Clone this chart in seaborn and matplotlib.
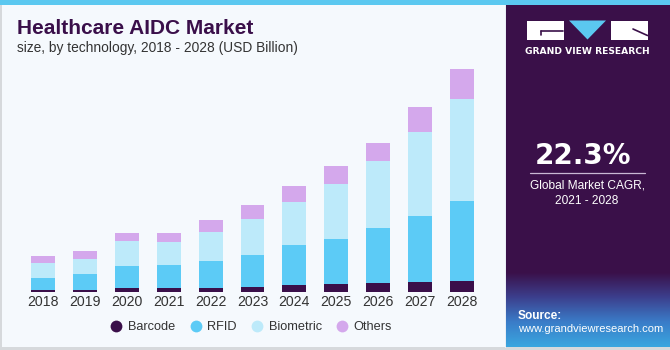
import matplotlib
matplotlib.use("Agg")
import matplotlib.pyplot as plt
import seaborn as sns
import numpy as np
import pandas as pd
from matplotlib.patches import Rectangle, Polygon
from matplotlib.lines import Line2D
from matplotlib.colors import LinearSegmentedColormap

# ---- data (USD Billion) ----
years = ["2018", "2019", "2020", "2021", "2022", "2023", "2024", "2025", "2026", "2027", "2028"]
barcode = [0.23, 0.20, 0.43, 0.46, 0.46, 0.56, 0.70, 0.80, 0.96, 1.06, 1.16]
rfid = [1.23, 1.63, 2.20, 2.27, 2.70, 3.17, 4.03, 4.50, 5.47, 6.60, 7.97]
biometric = [1.44, 1.53, 2.50, 2.33, 2.87, 3.60, 4.27, 5.53, 6.70, 8.37, 10.20]
others = [0.73, 0.77, 0.80, 0.87, 1.20, 1.40, 1.66, 1.77, 1.77, 2.47, 2.97]
series_names = ["Barcode", "RFID", "Biometric", "Others"]
colors = ["#3a0f4a", "#5ccbf6", "#bdeafa", "#d4a8ec"]

df = pd.DataFrame({"year": years, "Barcode": barcode, "RFID": rfid,
                   "Biometric": biometric, "Others": others})

W, H = 670, 350
sns.set_theme(style="white")
plt.rcParams["font.family"] = ["Liberation Sans", "DejaVu Sans"]
fig = plt.figure(figsize=(W / 100, H / 100), dpi=100)
fig.patch.set_facecolor("#f5f9fd")

# ---- background in pixel coords ----
bg = fig.add_axes([0, 0, 1, 1], zorder=0)
bg.set_xlim(0, W)
bg.set_ylim(H, 0)
bg.axis("off")
bg.add_patch(Rectangle((0, 0), 506, 348, facecolor="#f5f9fd", edgecolor="none"))
bg.add_patch(Rectangle((0, 0), 2, 350, facecolor="#d6d9dc", edgecolor="none"))
bg.add_patch(Rectangle((0, 347), W, 3, facecolor="#d6d9dc", edgecolor="none"))
bg.add_patch(Rectangle((505, 0), 1.2, 348, facecolor="#e8eef5", edgecolor="none"))
bg.add_patch(Rectangle((506, 0), W - 506, 347, facecolor="#3a1049", edgecolor="none"))
# gradient for the source box
cmap = LinearSegmentedColormap.from_list("g", ["#3a1049", "#3c3f8d", "#3a7cc8", "#3aa6df"])
grad = np.linspace(0, 1, 100).reshape(-1, 1)
bg.imshow(grad, extent=(506, W, 347, 272), cmap=cmap, aspect="auto", zorder=1)
bg.set_xlim(0, W)
bg.set_ylim(H, 0)
# top stripe
bg.add_patch(Rectangle((0, 0), W, 5, facecolor="#5bc8f0", edgecolor="none", zorder=3))

# logo
bg.add_patch(Rectangle((527, 20.5), 36.5, 19, facecolor="white", edgecolor="none", zorder=3))
bg.plot([541, 563], [31, 31], color="#3a1049", lw=1.2, zorder=4)
bg.plot([541, 541], [31, 35], color="#3a1049", lw=1.2, zorder=4)
bg.add_patch(Polygon([(569, 20.5), (606, 20.5), (587.5, 39.5)], closed=True,
                     facecolor="#5bc8f0", edgecolor="none", zorder=3))
bg.add_patch(Rectangle((611, 20.5), 36.5, 19, facecolor="white", edgecolor="none", zorder=3))
bg.plot([633, 647.5], [29, 35.5], color="#3a1049", lw=1.2, zorder=4)
bg.text(587, 51, "GRAND VIEW RESEARCH", color="white", fontsize=6.6, fontweight="bold",
        ha="center", va="center", zorder=4, family=["DejaVu Sans"])

# CAGR
bg.text(583, 156, "22.3%", color="white", fontsize=20, fontweight="bold",
        ha="center", va="center", zorder=4, family=["DejaVu Sans"])
bg.plot([530, 645], [173.3, 173.3], color="#c9b8d4", lw=0.9, zorder=4)
bg.text(587, 186, "Global Market CAGR,", color="white", fontsize=8.6,
        ha="center", va="center", zorder=4)
bg.text(587, 201, "2021 - 2028", color="white", fontsize=8.6,
        ha="center", va="center", zorder=4)

# Source
bg.text(518, 316, "Source:", color="white", fontsize=8.6, fontweight="bold",
        ha="left", va="center", zorder=4)
bg.text(518, 329.5, "www.grandviewresearch.com", color="white", fontsize=8,
        ha="left", va="center", zorder=4)

# Title
bg.text(17, 28, "Healthcare AIDC Market", color="#3a0f4a", fontsize=15, fontweight="bold",
        ha="left", va="center", zorder=4)
bg.text(17, 48, "size, by technology, 2018 - 2028 (USD Billion)", color="#333333", fontsize=9.9,
        ha="left", va="center", zorder=4)

# ---- bar chart ----
base_px = 292.3
top_px = 60.0
scale = 41.9  # px per category
left_px, right_px = 0.0, 505.0
ax = fig.add_axes([left_px / W, (H - base_px) / H, (right_px - left_px) / W, (base_px - top_px) / H], zorder=2)
ax.set_facecolor("none")

cum = df[series_names].cumsum(axis=1)
for name, col in reversed(list(zip(series_names, colors))):
    sns.barplot(x=df["year"], y=cum[name], color=col, width=0.57, ax=ax,
                saturation=1, edgecolor="none", linewidth=0)

xmin = -43.0 / scale
ax.set_xlim(xmin, xmin + (right_px - left_px) / scale)
ax.set_ylim(0, (base_px - top_px) / 10.0)
ax.set_xlabel("")
ax.set_ylabel("")
ax.set_yticks([])
for s in ax.spines.values():
    s.set_visible(False)
ax.tick_params(axis="x", length=0, pad=2, labelsize=10.2, labelcolor="#333333")

handles = [Line2D([0], [0], marker="o", linestyle="none", markersize=8.5,
                  markerfacecolor=c, markeredgecolor="none") for c in colors]
fig.legend(handles, series_names, loc="center", bbox_to_anchor=(251 / W, (H - 327) / H),
           ncol=4, frameon=False, fontsize=9.2, handlelength=1.0, handletextpad=0.4,
           columnspacing=1.1, labelcolor="#333333")

fig.savefig("out.png", dpi=100, facecolor=fig.get_facecolor())
